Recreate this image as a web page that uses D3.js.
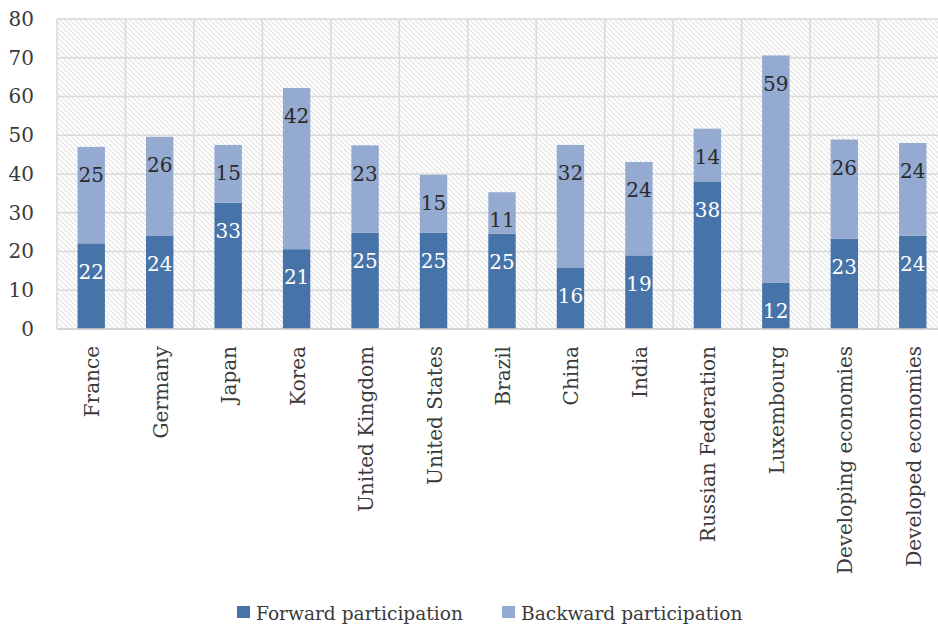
<!DOCTYPE html>
<html>
<head>
<meta charset="utf-8">
<script src="https://cdn.jsdelivr.net/npm/d3@7"></script>
<style>
  body { margin: 0; background: #fff; }
  text { font-family: "DejaVu Serif", serif; }
</style>
</head>
<body>
<div id="container"></div>
<script>
const width = 938; // Chart's dimensions
const height = 628;
const marginLeft = 57;
const marginRight = -9; // plot runs off the right edge, as in the original
const marginTop = 19;
const marginBottom = 299;

// Data
const categories = ["France", "Germany", "Japan", "Korea", "United Kingdom", "United States", "Brazil",
  "China", "India", "Russian Federation", "Luxembourg", "Developing economies", "Developed economies"];
const forward = [22.1, 24.0, 32.6, 20.6, 24.8, 24.8, 24.6, 15.9, 19.0, 38.1, 12.0, 23.3, 24.1];
const backward = [24.9, 25.6, 14.9, 41.6, 22.6, 15.0, 10.7, 31.6, 24.1, 13.6, 58.6, 25.6, 23.9];
const seriesNames = ["Forward participation", "Backward participation"];
const yTicks = [0, 10, 20, 30, 40, 50, 60, 70, 80];

const rows = categories.map((c, i) => ({
  name: c,
  "Forward participation": forward[i],
  "Backward participation": backward[i]
}));

const series = d3.stack().keys(seriesNames)(rows);

const x = d3.scaleBand()
  .domain(categories)
  .range([marginLeft, width - marginRight])
  .paddingInner(0.6)
  .paddingOuter(0.3);

const y = d3.scaleLinear()
  .domain([0, 80])
  .range([height - marginBottom, marginTop]);

const color = d3.scaleOrdinal()
  .domain(seriesNames)
  .range(["#4673a8", "#95aad1"]);

const labelColor = d3.scaleOrdinal()
  .domain(seriesNames)
  .range(["#ffffff", "#2b2b2b"]);

const svg = d3.select("#container").append("svg")
  .attr("width", width)
  .attr("height", height);

// diagonal hatch used as the plot background
const defs = svg.append("defs");
const pat = defs.append("pattern")
  .attr("id", "hatch")
  .attr("patternUnits", "userSpaceOnUse")
  .attr("width", 5)
  .attr("height", 5);
pat.append("rect").attr("width", 5).attr("height", 5).attr("fill", "#ffffff");
pat.append("path")
  .attr("d", "M-1,-1 L6,6 M-1,4 L1,6 M4,-1 L6,1")
  .attr("stroke", "#e2e2e2")
  .attr("stroke-width", 1.2);

const plotW = width - marginRight - marginLeft;
const plotH = y(0) - marginTop;

svg.append("rect")
  .attr("x", marginLeft)
  .attr("y", marginTop)
  .attr("width", plotW)
  .attr("height", plotH)
  .attr("fill", "url(#hatch)");

// horizontal gridlines
svg.append("g")
  .selectAll("line")
  .data(yTicks)
  .join("line")
  .attr("x1", marginLeft)
  .attr("x2", width - marginRight)
  .attr("y1", d => y(d))
  .attr("y2", d => y(d))
  .attr("stroke", "#d9d9d9")
  .attr("stroke-width", 1.5);

// vertical gridlines at the band edges
const edges = categories.map(c => x(c) - x.step() * x.paddingInner() / 2)
  .concat([width - marginRight]);
svg.append("g")
  .selectAll("line")
  .data(edges)
  .join("line")
  .attr("x1", d => d)
  .attr("x2", d => d)
  .attr("y1", marginTop)
  .attr("y2", y(0))
  .attr("stroke", "#d9d9d9")
  .attr("stroke-width", 1.5);

// y axis labels
svg.append("g")
  .attr("transform", `translate(${marginLeft},0)`)
  .call(d3.axisLeft(y).tickValues(yTicks).tickSize(0).tickPadding(23))
  .call(g => g.select(".domain").remove())
  .call(g => g.selectAll("text")
    .attr("font-family", "DejaVu Serif")
    .attr("font-size", 20)
    .attr("fill", "#3a3a3a"));

// stacked bars
const layer = svg.append("g")
  .selectAll("g")
  .data(series)
  .join("g")
  .attr("fill", d => color(d.key));

layer.selectAll("rect")
  .data(D => D.map(d => Object.assign(d, { key: D.key })))
  .join("rect")
  .attr("x", d => x(d.data.name))
  .attr("y", d => y(d[1]))
  .attr("height", d => y(d[0]) - y(d[1]))
  .attr("width", x.bandwidth());

// value labels, set just inside the top of each segment
layer.selectAll("text")
  .data(D => D)
  .join("text")
  .attr("x", d => x(d.data.name) + x.bandwidth() / 2)
  .attr("y", d => y(d[1]) + 28)
  .attr("dy", "0.36em")
  .attr("text-anchor", "middle")
  .attr("font-size", 20)
  .attr("fill", d => labelColor(d.key))
  .text(d => d3.format(".0f")(d[1] - d[0]));

// x axis line
svg.append("line")
  .attr("x1", marginLeft)
  .attr("x2", width - marginRight)
  .attr("y1", y(0))
  .attr("y2", y(0))
  .attr("stroke", "#d0d0d0")
  .attr("stroke-width", 1.5);

// rotated category labels
svg.append("g")
  .selectAll("text")
  .data(categories)
  .join("text")
  .attr("transform", d => `translate(${x(d) + x.bandwidth() / 2 + 1},${y(0) + 17}) rotate(-90)`)
  .attr("dy", "0.35em")
  .attr("text-anchor", "end")
  .attr("font-size", 20)
  .attr("fill", "#3a3a3a")
  .text(d => d);

// legend
const legendX = [237, 502];
const legend = svg.append("g")
  .selectAll("g")
  .data(seriesNames)
  .join("g")
  .attr("transform", (d, i) => `translate(${legendX[i]},606)`);

legend.append("rect")
  .attr("width", 13)
  .attr("height", 12)
  .attr("fill", d => color(d));

legend.append("text")
  .attr("x", 19)
  .attr("y", 7)
  .attr("dy", "0.35em")
  .attr("font-size", 18.6)
  .attr("fill", "#3a3a3a")
  .text(d => d);
</script>
</body>
</html>
